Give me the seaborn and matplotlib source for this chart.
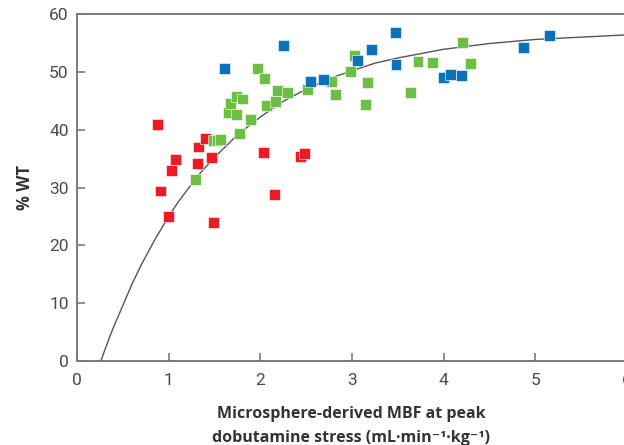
import numpy as np
import pandas as pd
import seaborn as sns
import matplotlib
matplotlib.use('Agg')
from matplotlib import pyplot as plt

# red group
red_x = [0.88, 0.91, 1.00, 1.03, 1.07, 1.31, 1.33, 1.40, 1.47, 1.49, 2.03, 2.15, 2.44, 2.48]
red_y = [40.9, 29.4, 25.0, 32.9, 34.9, 34.1, 37.0, 38.4, 35.2, 23.9, 36.0, 28.8, 35.3, 35.9]

# green group
green_x = [1.29, 1.49, 1.53, 1.57, 1.65, 1.67, 1.74, 1.74, 1.77, 1.81, 1.89, 1.97, 2.05, 2.07,
           2.17, 2.19, 2.30, 2.51, 2.78, 2.82, 2.98, 3.03, 3.15, 3.17, 3.64, 3.72, 3.88, 4.21, 4.29]
green_y = [31.4, 38.2, 38.2, 38.3, 43.0, 44.6, 45.7, 42.6, 39.4, 45.3, 41.7, 50.6, 48.8, 44.1,
           44.9, 46.7, 46.4, 47.0, 48.4, 46.1, 50.0, 52.8, 44.4, 48.2, 46.5, 51.8, 51.6, 55.1, 51.5]

# blue group
blue_x = [1.61, 2.25, 2.55, 2.69, 3.06, 3.21, 3.47, 3.48, 4.00, 4.07, 4.19, 4.87, 5.15]
blue_y = [50.6, 54.6, 48.4, 48.6, 52.0, 53.8, 56.8, 51.2, 49.0, 49.6, 49.4, 54.2, 56.3]

# fitted curve
curve_x = [0.26, 0.35, 0.4, 0.5, 0.6, 0.7, 0.85, 1.0, 1.1, 1.25, 1.35, 1.5, 1.75, 2.0, 2.25,
           2.5, 2.75, 3.0, 3.25, 3.5, 4.0, 4.5, 5.0, 5.5, 6.0]
curve_y = [0.0, 3.9, 5.9, 9.6, 13.3, 16.6, 21.0, 25.0, 27.4, 30.6, 32.6, 35.2, 39.1, 42.2, 44.9,
           47.0, 48.8, 50.2, 51.5, 52.4, 53.9, 54.9, 55.6, 56.0, 56.4]

df = pd.DataFrame({
    'x': red_x + green_x + blue_x,
    'y': red_y + green_y + blue_y,
    'group': ['red'] * len(red_x) + ['green'] * len(green_x) + ['blue'] * len(blue_x),
})
palette = {'red': '#ED1C24', 'green': '#6CBE45', 'blue': '#0B72BA'}

fig = plt.figure(figsize=(6.24, 4.45), dpi=100)
ax = fig.add_axes([0.1234, 0.1888, 0.8814, 0.7797])

sns.lineplot(x=curve_x, y=curve_y, color='#555555', lw=1.0, ax=ax, zorder=1)
sns.scatterplot(data=df, x='x', y='y', hue='group', palette=palette, marker='s', s=62,
                edgecolor='white', linewidth=0.4, legend=False, ax=ax, zorder=3)

ax.set(xlim=(0, 6), ylim=(0, 60), xticks=range(7), yticks=range(0, 61, 10))
for side in ['left', 'bottom', 'top']:
    ax.spines[side].set_color('#7a7a7a')
    ax.spines[side].set_linewidth(1.4)
ax.spines['right'].set_visible(False)
ax.tick_params(direction='in', length=6, width=1.2, color='#7a7a7a', labelcolor='#4a4a4a',
               labelsize=12.5, pad=6)
ax.tick_params(axis='x', pad=9)
for lab in ax.get_xticklabels() + ax.get_yticklabels():
    lab.set_family(['Roboto', 'DejaVu Sans'])

lab_font = ['Open Sans', 'DejaVu Sans']
ax.set_xlabel('Microsphere-derived MBF at peak\ndobutamine stress (mL·min⁻¹·kg⁻¹)',
              fontsize=11.5, fontweight='bold', color='#333333', family=lab_font,
              linespacing=1.65)
ax.xaxis.set_label_coords(0.498, -0.13)
ax.set_ylabel('% WT', fontsize=12, fontweight='bold', color='#333333', family=lab_font)
ax.yaxis.set_label_coords(-0.078, 0.5)

fig.savefig('out.png', dpi=100)
